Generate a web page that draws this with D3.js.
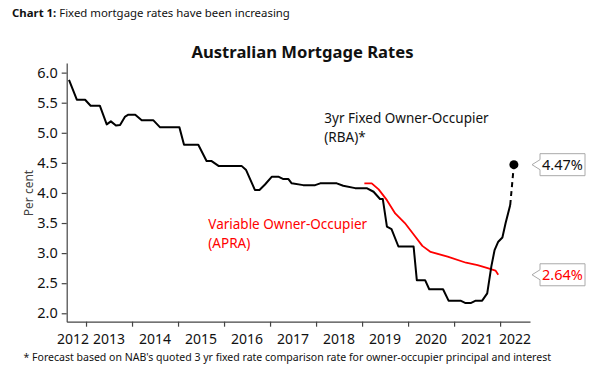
<!DOCTYPE html>
<html><head><meta charset="utf-8">
<script src="https://cdn.jsdelivr.net/npm/d3@7"></script>
<style>
html,body{margin:0;padding:0;background:#fff;}
svg{display:block;font-family:"Noto Sans",sans-serif;}
</style></head>
<body><svg id="c" width="600" height="368"></svg>
<script>
// ---------- data ----------
const fixedYears = [2012.63,2012.80,2012.98,2013.10,2013.30,2013.45,2013.54,2013.65,2013.74,2013.85,2013.92,2014.07,2014.21,2014.46,2014.61,2015.03,2015.13,2015.44,2015.62,2015.73,2015.88,2016.38,2016.48,2016.67,2016.77,2016.89,2017.04,2017.18,2017.29,2017.40,2017.47,2017.72,2017.98,2018.09,2018.45,2018.59,2018.85,2019.10,2019.25,2019.39,2019.45,2019.54,2019.64,2019.79,2020.12,2020.19,2020.37,2020.46,2020.76,2020.88,2021.14,2021.25,2021.36,2021.47,2021.61,2021.72,2021.81,2021.88,2021.96,2022.05,2022.12,2022.22];
const fixedRates = [5.88,5.55,5.55,5.45,5.45,5.14,5.19,5.12,5.13,5.27,5.30,5.30,5.21,5.21,5.09,5.09,4.80,4.80,4.53,4.53,4.45,4.45,4.38,4.05,4.05,4.14,4.27,4.27,4.23,4.23,4.16,4.13,4.13,4.16,4.16,4.12,4.08,4.08,4.02,3.90,3.90,3.44,3.40,3.11,3.11,2.55,2.55,2.40,2.40,2.21,2.21,2.17,2.17,2.21,2.21,2.33,2.78,3.05,3.19,3.26,3.50,3.80];
const forecastYears = [2022.22, 2022.30];
const forecastRates = [3.80, 4.47];
const variableYears = [2019.05,2019.21,2019.36,2019.54,2019.72,2019.93,2020.13,2020.31,2020.49,2020.86,2021.26,2021.51,2021.73,2021.90,2021.96];
const variableRates = [4.16,4.16,4.06,3.88,3.66,3.50,3.30,3.12,3.02,2.94,2.84,2.80,2.75,2.71,2.64];
const yearLabels = ["2012","2013","2014","2015","2016","2017","2018","2019","2020","2021","2022"];
const yTicks = [2.0,2.5,3.0,3.5,4.0,4.5,5.0,5.5,6.0];
const calloutValues = [4.47, 2.64];
const calloutLabels = ["4.47%", "2.64%"];

// ---------- layout ----------
const svg = d3.select("#c");
const x = d3.scaleLinear().domain([2012.58, 2022.65]).range([66.7, 530]);
const y = d3.scaleLinear().domain([1.86, 6.16]).range([321.7, 63]);
const axisCol = "#444";

function fit(sel, w){
  const n = sel.node(); const fs = parseFloat(sel.attr("font-size"));
  const len = n.getComputedTextLength();
  sel.attr("font-size", (fs*w/len).toFixed(2));
}

// header
const hdr = svg.append("text").attr("x",12).attr("y",17).attr("font-size",13).attr("fill","#111");
hdr.append("tspan").attr("font-weight","bold").text("Chart 1:");
hdr.append("tspan").text(" Fixed mortgage rates have been increasing");
fit(hdr, 278);

// title
const title = svg.append("text").attr("x",302.5).attr("y",58).attr("text-anchor","middle")
  .attr("font-size",17).attr("font-weight","bold").attr("fill","#111").text("Australian Mortgage Rates");
fit(title, 222);

// y axis
const yAx = svg.append("g").attr("transform","translate(66.7,0)")
  .call(d3.axisLeft(y).tickValues(yTicks).tickFormat(d3.format(".1f")).tickSize(5).tickSizeOuter(0));
yAx.select(".domain").attr("stroke",axisCol).attr("stroke-width",1.2);
yAx.selectAll(".tick line").attr("stroke",axisCol).attr("stroke-width",1.2);
yAx.selectAll(".tick text").attr("font-size",14.5).attr("fill","#111").attr("font-family","Noto Sans").attr("x",-9);

// x axis
const yearTicks = d3.range(2013, 2023);
const xAx = svg.append("g").attr("transform","translate(0,321.7)")
  .call(d3.axisBottom(x).tickValues(yearTicks).tickFormat("").tickSize(5).tickSizeOuter(0));
xAx.select(".domain").attr("stroke",axisCol).attr("stroke-width",1.2);
xAx.selectAll(".tick line").attr("stroke",axisCol).attr("stroke-width",1.2);

// year labels centered on visible part of each year
const [d0,d1] = x.domain();
const lab = svg.append("g");
const labNodes = yearLabels.map(s => {
  const yr = +s;
  const a = Math.max(yr, d0), b = Math.min(yr+1, d1);
  return lab.append("text").attr("x", x((a+b)/2)).attr("y",343.5).attr("text-anchor","middle")
    .attr("font-size",14).attr("fill","#111").text(s);
});
// avoid overlap of the first (partial) label with the next
{
  const n0 = labNodes[0], n1 = labNodes[1];
  const w0 = n0.node().getComputedTextLength(), w1 = n1.node().getComputedTextLength();
  const lim = +n1.attr("x") - w1/2 - 4 - w0/2;
  if (+n0.attr("x") > lim) n0.attr("x", lim);
}

// y title
svg.append("text").attr("transform","translate(33,193) rotate(-90)").attr("text-anchor","middle")
  .attr("font-size",12).attr("fill","#444").text("Per cent");

// lines
const line = d3.line().x(d=>x(d[0])).y(d=>y(d[1]));
svg.append("path").datum(variableYears.map((v,i)=>[v,variableRates[i]]))
  .attr("d",line).attr("fill","none").attr("stroke","#ff0000").attr("stroke-width",1.8).attr("stroke-linejoin","round");
svg.append("path").datum(fixedYears.map((v,i)=>[v,fixedRates[i]]))
  .attr("d",line).attr("fill","none").attr("stroke","#000").attr("stroke-width",2).attr("stroke-linejoin","round");
svg.append("path").datum(forecastYears.map((v,i)=>[v,forecastRates[i]]))
  .attr("d",line).attr("fill","none").attr("stroke","#000").attr("stroke-width",2).attr("stroke-dasharray","5,4");
svg.append("circle").attr("cx",x(forecastYears[1])).attr("cy",y(forecastRates[1])).attr("r",4.5).attr("fill","#000");

// annotations (separate text elements per line)
const annFs = 13.5;
[["3yr Fixed Owner-Occupier",324.3,123],["(RBA)*",324.3,141.5]].forEach(([t,ax,ay])=>{
  svg.append("text").attr("x",ax).attr("y",ay).attr("font-size",annFs).attr("fill","#111").text(t);
});
[["Variable Owner-Occupier",208.3,229],["(APRA)",208.3,247.5]].forEach(([t,ax,ay])=>{
  svg.append("text").attr("x",ax).attr("y",ay).attr("font-size",annFs).attr("fill","#ff0000").text(t);
});

// callouts
const calloutColors = ["#111","#ff0000"];
calloutValues.forEach((v,i)=>{
  const cy = y(v);
  const g = svg.append("g");
  g.append("path").attr("d",`M540,${cy-11}H585V${cy+11}H540V${cy+5}L532,${cy}L540,${cy-5}Z`)
    .attr("fill","#fff").attr("stroke","#aaa").attr("stroke-width",1);
  g.append("text").attr("x",562.5).attr("y",cy+5).attr("text-anchor","middle")
    .attr("font-size",14.5).attr("fill",calloutColors[i]).text(calloutLabels[i]);
});

// footnote
const fn = svg.append("text").attr("x",23.5).attr("y",361).attr("font-size",11).attr("fill","#111")
  .text("* Forecast based on NAB's quoted 3 yr fixed rate comparison rate for owner-occupier principal and interest");
fit(fn, 528);
</script></body></html>
